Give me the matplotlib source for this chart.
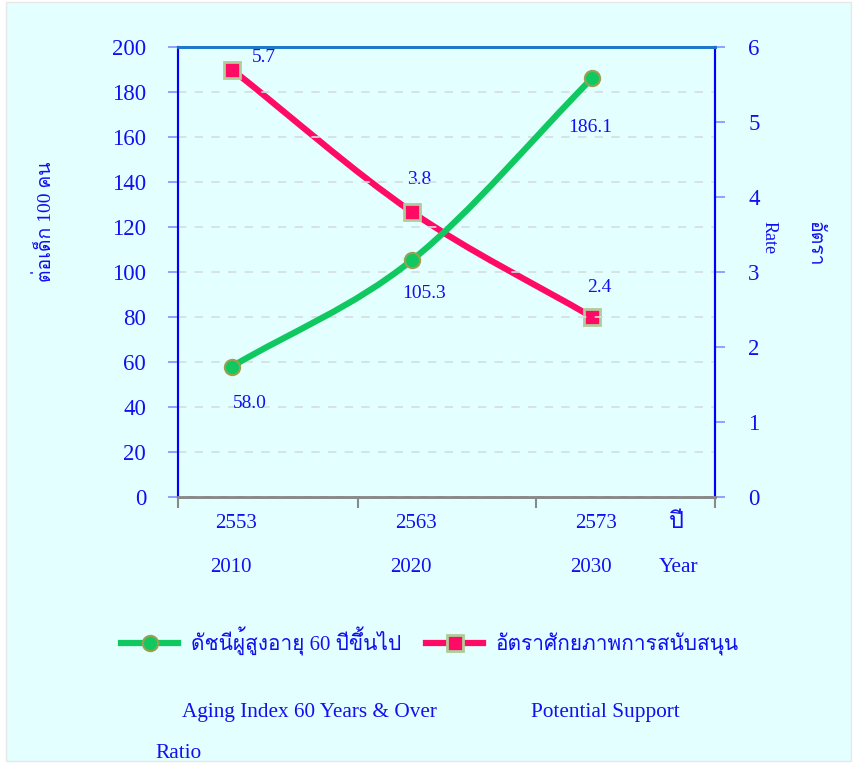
import matplotlib
matplotlib.use('Agg')
import matplotlib.pyplot as plt
from matplotlib import font_manager
from matplotlib.ft2font import FT2Font
from matplotlib.path import Path
from matplotlib.patches import PathPatch, Rectangle
from matplotlib.lines import Line2D

# data
years_be = ['2553', '2563', '2573']
years_ad = ['2010', '2020', '2030']
aging_index = [58.0, 105.3, 186.1]
support_ratio = [5.7, 3.8, 2.4]
left_ticks = [0, 20, 40, 60, 80, 100, 120, 140, 160, 180, 200]
right_ticks = [0, 1, 2, 3, 4, 5, 6]

BLUE = '#1010F0'
GREEN = '#10C860'
PINK = '#FF0A64'
BG = '#E4FFFF'


def find_thai_font():
    # look for any installed font that has Thai glyphs
    for f in font_manager.fontManager.ttflist:
        try:
            if 0x0E01 in FT2Font(f.fname).get_charmap():
                return f.name
        except Exception:
            pass
    return None


families = ['Liberation Serif']
thai = find_thai_font()
if thai:
    families.append(thai)
families.append('DejaVu Sans')
plt.rcParams['font.family'] = families


def smooth_path(xs, ys):
    # cubic bezier through the points (catmull-rom style tangents)
    n = len(xs)
    tx, ty = [], []
    for i in range(n):
        a = max(i - 1, 0)
        b = min(i + 1, n - 1)
        tx.append((xs[b] - xs[a]) / (b - a))
        ty.append((ys[b] - ys[a]) / (b - a))
    verts = [(xs[0], ys[0])]
    codes = [Path.MOVETO]
    for i in range(n - 1):
        verts += [(xs[i] + tx[i] / 3, ys[i] + ty[i] / 3),
                  (xs[i + 1] - tx[i + 1] / 3, ys[i + 1] - ty[i + 1] / 3),
                  (xs[i + 1], ys[i + 1])]
        codes += [Path.CURVE4] * 3
    return Path(verts, codes)


W, H = 857, 763
fig = plt.figure(figsize=(W / 100, H / 100), dpi=100)
fig.patch.set_facecolor('white')
fig.add_artist(Rectangle((6 / W, 2 / H), 845 / W, 759 / H, transform=fig.transFigure,
                         facecolor=BG, edgecolor='#E8E8E8', lw=1, zorder=-10))

ax = fig.add_axes([178 / W, 1 - 497 / H, 537 / W, 450 / H])
ax2 = ax.twinx()
ax.set_zorder(ax2.get_zorder() + 1)
ax.patch.set_visible(False)
ax2.patch.set_visible(False)

xs = list(range(len(years_be)))

# green: aging index (left axis)
ax.add_patch(PathPatch(smooth_path(xs, aging_index), fill=False, edgecolor=GREEN,
                       lw=4.5, capstyle='round', zorder=3))
ax.plot(xs, aging_index, ls='none', marker='o', ms=11, mfc=GREEN, mec='#9AA050',
        mew=1.5, zorder=4)

# pink: potential support ratio (right axis)
ax2.add_patch(PathPatch(smooth_path(xs, support_ratio), fill=False, edgecolor=PINK,
                        lw=4.5, capstyle='round', zorder=3))
ax2.plot(xs, support_ratio, ls='none', marker='s', ms=11, mfc=PINK, mec='#B0CC98',
         mew=2, zorder=4)

green_offsets = [(18, -37), (12, -33), (-2, -49)]
for x, v, off in zip(xs, aging_index, green_offsets):
    ax.annotate(f'{v:.1f}', (x, v), xytext=off, textcoords='offset pixels',
                ha='center', va='center', color=BLUE, fontsize=14, zorder=5)
pink_offsets = [(32, 12), (7, 32), (7, 30)]
for x, v, off in zip(xs, support_ratio, pink_offsets):
    ax2.annotate(f'{v:.1f}', (x, v), xytext=off, textcoords='offset pixels',
                 ha='center', va='center', color=BLUE, fontsize=14, zorder=5)

ax.set_xlim(-0.3, 2.683)
ax.set_ylim(0, 200)
ax2.set_ylim(0, 6)
ax.set_yticks(left_ticks)
ax2.set_yticks(right_ticks)
ax.yaxis.grid(True, color='#D2DEDE', ls=(0, (5, 5)), lw=1.2)
ax.set_axisbelow(True)

ax.set_xticks([-0.3, 0.7, 1.69, 2.683])
ax.set_xticklabels([])
ax.tick_params(axis='x', direction='out', length=8, width=1.5, color='#8A8A8A')
ax.tick_params(axis='y', direction='out', length=7, width=1.2, color='#8C8CFF',
               labelcolor=BLUE, labelsize=16.5, pad=16)
ax2.tick_params(axis='y', direction='out', length=7, width=1.2, color='#8C8CFF',
                labelcolor=BLUE, labelsize=16.5, pad=17)

for a in (ax, ax2):
    a.spines['left'].set_color('#0000FF')
    a.spines['right'].set_color('#0000FF')
    a.spines['left'].set_linewidth(1.5)
    a.spines['right'].set_linewidth(1.5)
    a.spines['top'].set_color('#1C78C8')
    a.spines['top'].set_linewidth(2)
    a.spines['bottom'].set_color('#8A8A8A')
    a.spines['bottom'].set_linewidth(2)

# two rows of year labels below the axis
for x, be, ad in zip(xs, years_be, years_ad):
    ax.annotate(be, (x, 0), xycoords=('data', 'axes fraction'), xytext=(4, -27),
                textcoords='offset pixels', ha='center', va='center', color=BLUE,
                fontsize=15, annotation_clip=False)
    ax.annotate(ad, (x, 0), xycoords=('data', 'axes fraction'), xytext=(-1, -71),
                textcoords='offset pixels', ha='center', va='center', color=BLUE,
                fontsize=15, annotation_clip=False)
fig.text(676 / W, 1 - 522 / H, 'ปี', ha='center', va='center', color=BLUE, fontsize=17)
fig.text(679 / W, 1 - 568 / H, 'Year', ha='center', va='center', color=BLUE, fontsize=15.5)

# axis titles
fig.text(45 / W, 1 - 222 / H, 'ต่อเด็ก 100 คน', rotation=90, ha='center', va='center',
         color=BLUE, fontsize=14)
fig.text(769 / W, 1 - 238 / H, 'Rate', rotation=270, ha='center', va='center',
         color=BLUE, fontsize=13)
fig.text(814 / W, 1 - 244 / H, 'อัตรา', rotation=270, ha='center', va='center',
         color=BLUE, fontsize=14)

# legend
handles = [Line2D([], [], color=GREEN, lw=4.5, marker='o', ms=11, mfc=GREEN,
                  mec='#9AA050', mew=1.5),
           Line2D([], [], color=PINK, lw=4.5, marker='s', ms=11, mfc=PINK,
                  mec='#B0CC98', mew=2)]
fig.legend(handles, ['ดัชนีผู้สูงอายุ 60 ปีขึ้นไป', 'อัตราศักยภาพการสนับสนุน'],
           loc='center left', bbox_to_anchor=(121 / W, 1 - 641 / H), ncol=2,
           frameon=False, fontsize=15, labelcolor=BLUE, handlelength=2.75,
           handletextpad=0.6, columnspacing=1.2, borderpad=0, borderaxespad=0,
           numpoints=1)

fig.text(182 / W, 1 - 712 / H, 'Aging Index 60 Years & Over', ha='left', va='center',
         color=BLUE, fontsize=15.3)
fig.text(531 / W, 1 - 712 / H, 'Potential Support', ha='left', va='center',
         color=BLUE, fontsize=15.3)
fig.text(155 / W, 1 - 754 / H, 'Ratio', ha='left', va='center', color=BLUE, fontsize=15.3)

fig.savefig('out.png', dpi=100)
